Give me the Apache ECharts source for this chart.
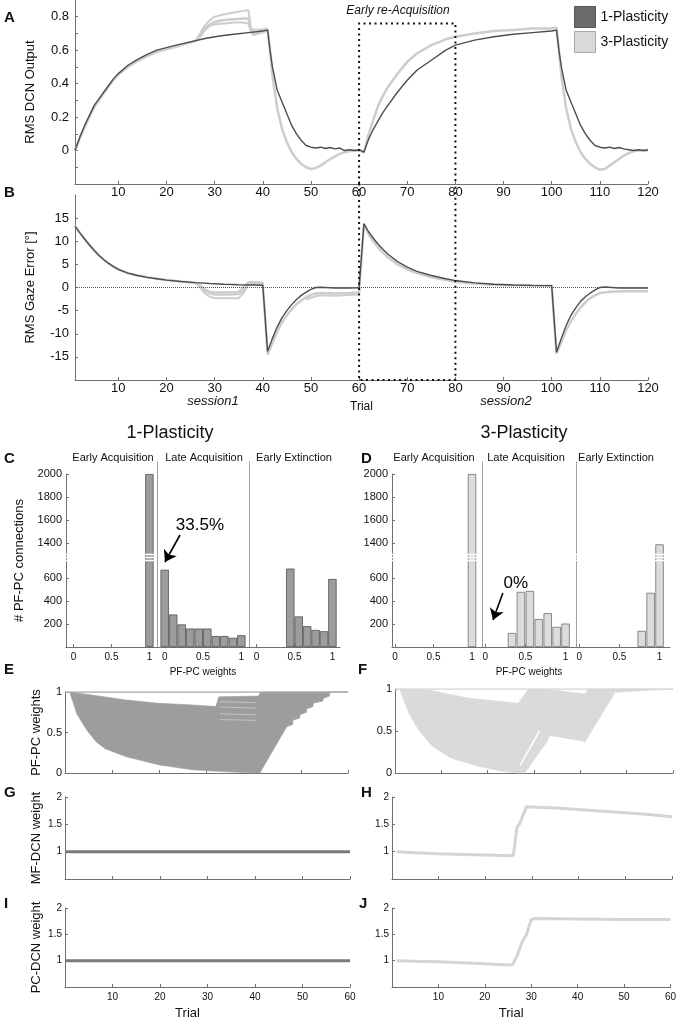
<!DOCTYPE html>
<html>
<head>
<meta charset="utf-8">
<script src="https://cdn.jsdelivr.net/npm/echarts@6/dist/echarts.min.js"></script>
<style>html,body{margin:0;padding:0;background:#fff}#chart1{width:679px;height:1021px}</style>
</head>
<body>
<div id="chart1"></div>
<script>
// ---- data ----
var trialTicks = [10, 20, 30, 40, 50, 60, 70, 80, 90, 100, 110, 120];
var dcnLabelTicks = [0, 0.2, 0.4, 0.6, 0.8];
var dcnMinorTicks = [-0.1, 0, 0.1, 0.2, 0.3, 0.4, 0.5, 0.6, 0.7, 0.8];
var gazeTicks = [-15, -10, -5, 0, 5, 10, 15];
var reacqWindow = [60, 80];
var reacqTop = 0.76;

// A: RMS DCN output
var dcnOne = [[1,0],[2,0.08],[3,0.15],[4,0.21],[5,0.27],[6,0.31],[7,0.35],[8,0.39],[9,0.43],[10,0.46],[12,0.51],[14,0.545],[16,0.575],[18,0.6],[20,0.615],[22,0.63],[25,0.65],[28,0.67],[31,0.685],[34,0.695],[37,0.705],[40,0.715],[41,0.72],[41.5,0.6],[42,0.5],[43,0.36],[44,0.29],[45,0.22],[46,0.15],[47,0.1],[48,0.06],[49,0.03],[50,0.02],[51,0.015],[52,0.02],[53,0.012],[54,0.018],[55,0.01],[56,0.015],[57,0],[58,0.005],[59,0],[60,0.005],[61,-0.01],[62,0.07],[63,0.13],[64,0.18],[65,0.23],[66,0.27],[68,0.35],[70,0.42],[72,0.48],[75,0.54],[78,0.6],[80,0.63],[84,0.66],[88,0.68],[92,0.695],[96,0.705],[100,0.715],[101,0.72],[101.5,0.6],[102,0.5],[103,0.36],[104,0.29],[105,0.22],[106,0.15],[107,0.1],[108,0.06],[109,0.03],[110,0.02],[111,0.015],[112,0.02],[113,0.012],[114,0.018],[115,0.01],[116,0.005],[117,0],[118,0.005],[119,0],[120,0.005]];
var dcnThree = [[1,0],[2,0.075],[3,0.14],[4,0.2],[5,0.26],[6,0.3],[7,0.345],[8,0.385],[9,0.42],[10,0.455],[12,0.5],[14,0.535],[16,0.565],[18,0.59],[20,0.605],[22,0.62],[24,0.64],[26,0.655],[27,0.69],[28,0.73],[29,0.755],[30,0.77],[32,0.78],[34,0.785],[36,0.79],[37,0.79],[37.5,0.72],[38,0.7],[40,0.715],[41,0.725],[41.5,0.6],[42,0.45],[43,0.25],[44,0.13],[45,0.05],[46,-0.01],[47,-0.05],[48,-0.08],[49,-0.1],[50,-0.11],[51,-0.105],[52,-0.09],[53,-0.07],[54,-0.05],[55,-0.035],[56,-0.02],[57,-0.01],[58,-0.005],[59,0],[60,0],[61,-0.01],[62,0.1],[63,0.19],[64,0.27],[65,0.33],[66,0.38],[68,0.46],[70,0.53],[72,0.58],[75,0.63],[78,0.665],[80,0.68],[84,0.7],[88,0.715],[92,0.72],[96,0.73],[100,0.73],[101,0.735],[101.5,0.6],[102,0.45],[103,0.25],[104,0.13],[105,0.05],[106,-0.01],[107,-0.05],[108,-0.08],[109,-0.1],[110,-0.115],[111,-0.11],[112,-0.09],[113,-0.07],[114,-0.05],[115,-0.03],[116,-0.015],[117,-0.005],[118,0],[120,0]];
var dcnThreeHi = [[26,0.655],[27,0.7],[28,0.75],[29,0.78],[30,0.8],[32,0.815],[34,0.825],[36,0.835],[37,0.84],[37.5,0.74],[38,0.72],[40,0.725],[41,0.73]];
var dcnThreeLo = [[26,0.655],[27,0.68],[28,0.72],[29,0.745],[30,0.755],[32,0.76],[34,0.765],[36,0.765],[37,0.76],[37.5,0.71],[38,0.69],[40,0.705],[41,0.72]];

// B: RMS gaze error
var gazeOne = [[1,13.2],[2,11.8],[3,10.5],[4,9.2],[5,8],[6,6.9],[7,6],[8,5.2],[9,4.5],[10,3.9],[12,3.1],[14,2.6],[16,2.2],[18,1.9],[20,1.6],[23,1.3],[26,1.05],[29,0.85],[32,0.7],[35,0.6],[38,0.55],[40,0.5],[41,-13.8],[42,-11],[43,-8.5],[44,-6.5],[45,-5],[46,-3.7],[47,-2.6],[48,-1.7],[49,-1],[50,-0.4],[51,0],[52,0.05],[55,-0.1],[58,-0.1],[60,-0.05],[61,13.8],[62,12],[63,10.6],[64,9.3],[65,8.2],[66,7.2],[68,5.6],[70,4.4],[72,3.5],[75,2.6],[78,1.9],[80,1.5],[84,1],[88,0.7],[92,0.55],[96,0.45],[100,0.4],[101,-14],[102,-11],[103,-8.2],[104,-6],[105,-4.4],[106,-3],[107,-2],[108,-1.2],[109,-0.5],[110,0],[111,0.1],[114,-0.1],[117,-0.1],[120,-0.1]];
var gazeThree = [[1,13.4],[2,11.9],[3,10.5],[4,9.2],[5,8],[6,6.9],[7,6],[8,5.2],[9,4.5],[10,3.9],[12,3.1],[14,2.6],[16,2.2],[18,1.9],[20,1.6],[23,1.3],[26,1],[27,0.3],[28,-0.7],[29,-1.3],[30,-1.5],[33,-1.5],[35,-1.4],[36,-0.6],[37,0.9],[38,1],[40,0.9],[41,-14.5],[42,-12],[43,-9.5],[44,-7.5],[45,-6],[46,-4.7],[47,-3.6],[48,-2.8],[49,-2.1],[50,-1.6],[51,-1.3],[52,-1.2],[55,-1.3],[58,-1.2],[60,-1.1],[61,13.5],[62,11.5],[63,9.9],[64,8.6],[65,7.5],[66,6.5],[68,5],[70,3.9],[72,3.1],[75,2.2],[78,1.6],[80,1.25],[84,0.85],[88,0.6],[92,0.5],[96,0.42],[100,0.4],[101,-14.3],[102,-11.8],[103,-9.3],[104,-7.3],[105,-5.7],[106,-4.3],[107,-3.2],[108,-2.3],[109,-1.7],[110,-1.2],[112,-0.9],[115,-0.8],[120,-0.8]];
var gazeThreeHi = [[26,1],[27,0.5],[28,-0.4],[29,-0.9],[30,-1],[33,-1],[35,-0.9],[36,0.1],[37,1.2],[38,1.2],[40,1.1]];
var gazeThreeLo = [[26,1],[27,0],[28,-1.3],[29,-2],[30,-2.3],[33,-2.3],[35,-2.3],[36,-1.2],[37,0.6],[38,0.8],[40,0.8]];
var gazeThreeLo2 = [[49,-2.6],[50,-2.2],[51,-1.9],[52,-1.7],[55,-1.8],[58,-1.6],[60,-1.5]];

// C / D: histograms of PF-PC weights (10 bins)
var binCenters = [0, 0.111, 0.222, 0.333, 0.444, 0.556, 0.667, 0.778, 0.889, 1];
var histOneEarlyAcq = [0, 0, 0, 0, 0, 0, 0, 0, 0, 2000];
var histOneLateAcq = [670, 282, 196, 160, 160, 160, 95, 95, 80, 102];
var histOneEarlyExt = [0, 0, 0, 0, 680, 265, 180, 148, 137, 590];
var histThreeEarlyAcq = [0, 0, 0, 0, 0, 0, 0, 0, 0, 2000];
var histThreeLateAcq = [0, 0, 0, 122, 478, 486, 243, 293, 175, 203];
var histThreeEarlyExt = [0, 0, 0, 0, 0, 0, 0, 140, 470, 1390];
var histTicks = [200, 400, 600, 1400, 1600, 1800, 2000];
var weightTicks = [0, 0.5, 1];
var phaseNames = ['Early Acquisition', 'Late Acquisition', 'Early Extinction'];

// E / F: envelope of PF-PC weights over trials
var weightCeiling = [[0,1],[60,1]];
var pfpcOneUpper = [[1,1],[6,0.96],[13,0.9],[20,0.86],[27,0.84],[32,0.82],[32.6,0.94],[41,0.95],[41.5,1],[60,1]];
var pfpcOneLower = [[1,1],[2.5,0.73],[4.6,0.53],[6.7,0.38],[8.5,0.3],[13,0.2],[20,0.1],[27,0.04],[34,0.016],[40.5,0],[41.3,0],[47,0.57],[48.3,0.6],[48.3,0.65],[49.8,0.68],[49.8,0.72],[51.2,0.75],[51.2,0.79],[52.6,0.82],[52.6,0.86],[54.7,0.89],[54.7,0.92],[56.1,0.95],[56.1,0.98],[56.5,1],[60,1]];
var pfpcOneStripes = [[[32.8,0.88],[40.5,0.87]], [[32.8,0.815],[40.5,0.8]], [[32.8,0.73],[40.5,0.72]], [[32.8,0.66],[40.5,0.65]]];
var pfpcThreeUpper = [[1,1],[7,0.99],[16,0.89],[26.6,0.83],[28.8,1],[32.4,1],[41,0.94],[41.7,1],[60,1]];
var pfpcThreeLower = [[1,1],[3,0.71],[5,0.52],[8,0.32],[12,0.18],[18,0.08],[23,0.02],[26.5,0],[28,0],[33,0.39],[33.2,0.44],[41,0.37],[47.5,0.96],[60,1]];
var pfpcThreeGaps = [[[27,0.09],[31.2,0.5]], [[33.5,0.43],[40.6,0.365]]];

// G-J: MF-DCN and PC-DCN weights
var trial60Ticks = [10, 20, 30, 40, 50, 60];
var dcnWeightTicks = [1, 1.5, 2];
var mfdcnOne = [[0,1],[60,1]];
var mfdcnThree = [[1,1],[5,0.98],[10,0.96],[15,0.95],[20,0.94],[25,0.925],[26,0.935],[26.8,1.45],[27.3,1.5],[28.8,1.82],[35,1.8],[40,1.77],[45,1.74],[50,1.71],[55,1.68],[60,1.64]];
var pcdcnOne = [[0,1],[60,1]];
var pcdcnThree = [[1,1],[5,0.99],[10,0.98],[15,0.96],[20,0.94],[25,0.92],[26,0.925],[27,1.1],[28,1.35],[29,1.5],[30,1.78],[31,1.8],[40,1.79],[50,1.78],[60,1.78]];

// ---- styling ----
var FONT = 'Liberation Sans, Arial, sans-serif';
var AXIS = '#707070';
var DARK = '#4d4d4d';
var LIGHT = '#cdcdcd';
var BREAK_AT = 750, BREAK_GAP = 500;
var breakMarks = [755, 780, 805];

function toDisplay(v) { return v > BREAK_AT ? v - BREAK_GAP : v; }
function fromDisplay(d) { return d > BREAK_AT ? d + BREAK_GAP : d; }

function merge(a, b) {
  for (var k in b) {
    if (b[k] && typeof b[k] === 'object' && !Array.isArray(b[k]) && a[k] && typeof a[k] === 'object') merge(a[k], b[k]);
    else a[k] = b[k];
  }
  return a;
}
function axis(grid, min, max, opts) {
  return merge({
    type: 'value', gridIndex: grid, min: min, max: max,
    splitLine: {show: false},
    axisLine: {show: true, onZero: false, lineStyle: {color: AXIS, width: 1}},
    axisTick: {show: true, inside: true, length: 3, lineStyle: {color: AXIS}},
    axisLabel: {show: true, color: '#111', fontSize: 13, fontFamily: FONT, margin: 6},
    nameTextStyle: {color: '#111', fontSize: 13, fontFamily: FONT}
  }, opts || {});
}
function line(name, data, grid, color, width) {
  return {name: name, type: 'line', data: data, xAxisIndex: grid, yAxisIndex: grid,
    symbol: 'none', silent: true, lineStyle: {color: color, width: width}, itemStyle: {color: color}};
}
function joinSegments(segs) {
  var out = [];
  segs.forEach(function (s, i) { if (i) out.push('-'); out = out.concat(s); });
  return out;
}
function band(grid, upper, lower, color) {
  return {type: 'custom', xAxisIndex: grid, yAxisIndex: grid, silent: true, data: [[0, 0]],
    renderItem: function (params, api) {
      var pts = upper.concat(lower.slice().reverse()).map(function (p) { return api.coord(p); });
      return {type: 'polygon', shape: {points: pts}, style: {fill: color, stroke: color, lineWidth: 0.6}};
    }};
}
// dotted outline of the re-acquisition window, drawn through the grid's own scales
function dottedPath(grid, path) {
  return {type: 'custom', xAxisIndex: grid, yAxisIndex: grid, silent: true, clip: false, z: 5, data: [[0, 0]],
    renderItem: function (params, api) {
      return {type: 'polyline', shape: {points: path.map(function (p) { return api.coord(p); })},
        style: {stroke: '#111', lineWidth: 2, lineDash: [2, 3.5], fill: null}};
    }};
}
function pctLabel(counts) {
  var s = counts.reduce(function (a, b) { return a + b; }, 0);
  return +(counts[0] / s * 100).toFixed(1) + '%';
}

// ---- grids ----
// histogram panels: first subplot starts at the 2000 tick, the dotted dividers reach a bit higher
var HIST_TOP = 474, HIST_H = 173, DIVIDER_TOP = 462;
var HIST_MAX = toDisplay(2000);
var DIVIDER_MAX = HIST_MAX * (HIST_TOP + HIST_H - DIVIDER_TOP) / HIST_H;
var grids = [
  {left: 75, top: 0, width: 573, height: 184},    // 0 A
  {left: 75, top: 195, width: 573, height: 185},  // 1 B
  {left: 66, top: HIST_TOP, width: 91, height: HIST_H},   // 2 C early acq
  {left: 157, top: DIVIDER_TOP, width: 92, height: HIST_TOP + HIST_H - DIVIDER_TOP},  // 3 C late acq
  {left: 249, top: DIVIDER_TOP, width: 91, height: HIST_TOP + HIST_H - DIVIDER_TOP},  // 4 C early ext
  {left: 392, top: HIST_TOP, width: 90, height: HIST_H},  // 5 D early acq
  {left: 482, top: DIVIDER_TOP, width: 94, height: HIST_TOP + HIST_H - DIVIDER_TOP},  // 6 D late acq
  {left: 576, top: DIVIDER_TOP, width: 94, height: HIST_TOP + HIST_H - DIVIDER_TOP},  // 7 D early ext
  {left: 65, top: 692, width: 283, height: 81},   // 8 E
  {left: 395, top: 689, width: 278, height: 84},  // 9 F
  {left: 65, top: 797, width: 285, height: 82},   // 10 G
  {left: 392, top: 797, width: 280, height: 82},  // 11 H
  {left: 65, top: 908, width: 285, height: 84},   // 12 I
  {left: 392, top: 908, width: 280, height: 84}   // 13 J
];

var trialAxisX = {axisLabel: {customValues: trialTicks, margin: 2}, axisTick: {customValues: trialTicks}};
var xAxes = [
  axis(0, 1, 120, trialAxisX),
  axis(1, 1, 120, merge({name: 'Trial', nameLocation: 'middle', nameGap: 21, nameTextStyle: {fontSize: 12}}, trialAxisX))
];
var yAxes = [
  axis(0, -0.2, 0.9, {name: 'RMS DCN Output', nameLocation: 'middle', nameGap: 38,
    axisLabel: {customValues: dcnLabelTicks, formatter: function (v) { return v === 0 ? '0' : v.toFixed(1); }},
    axisTick: {customValues: dcnMinorTicks}}),
  axis(1, -20, 20, {name: 'RMS Gaze Error [°]', nameLocation: 'middle', nameGap: 38,
    axisLabel: {customValues: gazeTicks}, axisTick: {customValues: gazeTicks}})
];

// histogram axes
var histSets = [histOneEarlyAcq, histOneLateAcq, histOneEarlyExt, histThreeEarlyAcq, histThreeLateAcq, histThreeEarlyExt];
var histRanges = [[-0.1, 1.1], [-0.1, 1.1], [-0.1, 1.1], [-0.04, 1.13], [-0.04, 1.13], [-0.04, 1.13]];
histSets.forEach(function (counts, i) {
  var g = i + 2, first = i % 3 === 0, mid = i % 3 === 1;
  xAxes.push(axis(g, histRanges[i][0], histRanges[i][1], {
    name: mid ? 'PF-PC weights' : '', nameLocation: 'middle', nameGap: 20, nameTextStyle: {fontSize: 10},
    axisLabel: {customValues: weightTicks, fontSize: 10, margin: 5},
    axisTick: {customValues: weightTicks}}));
  yAxes.push(first ? axis(g, 0, HIST_MAX, {
    name: i === 0 ? '# PF-PC connections' : '', nameLocation: 'middle', nameGap: 40,
    axisLabel: {customValues: histTicks.map(toDisplay), fontSize: 11, margin: 4,
      formatter: function (v) { return String(fromDisplay(v)); }},
    axisTick: {customValues: histTicks.map(toDisplay)}
  }) : axis(g, 0, DIVIDER_MAX, {
    axisLine: {lineStyle: {type: 'dotted', color: '#8a8a8a'}},
    axisLabel: {show: false}, axisTick: {show: false}}));
});

// E-J axes
[8, 9, 10, 11, 12, 13].forEach(function (g) {
  var bottomRow = g >= 12;
  xAxes.push(axis(g, 0, 60, {
    name: bottomRow ? 'Trial' : '', nameLocation: 'middle', nameGap: 20, nameTextStyle: {fontSize: 13, padding: [0, 40, 0, 0]},
    axisLabel: {show: bottomRow, customValues: trial60Ticks, fontSize: 10, margin: 5},
    axisTick: {customValues: trial60Ticks}}));
});
yAxes.push(axis(8, 0, 1, {name: 'PF-PC weights', nameLocation: 'middle', nameGap: 22, interval: 0.5, axisLabel: {fontSize: 11, margin: 3}}));
yAxes.push(axis(9, 0, 1, {interval: 0.5, axisLabel: {fontSize: 11, margin: 3}}));
yAxes.push(axis(10, 0.5, 2, {name: 'MF-DCN weight', nameLocation: 'middle', nameGap: 22,
  axisLabel: {customValues: dcnWeightTicks, fontSize: 10, margin: 3}, axisTick: {customValues: dcnWeightTicks}}));
yAxes.push(axis(11, 0.5, 2, {axisLabel: {customValues: dcnWeightTicks, fontSize: 10, margin: 3}, axisTick: {customValues: dcnWeightTicks}}));
yAxes.push(axis(12, 0.5, 2, {name: 'PC-DCN weight', nameLocation: 'middle', nameGap: 22,
  axisLabel: {customValues: dcnWeightTicks, fontSize: 10, margin: 3}, axisTick: {customValues: dcnWeightTicks}}));
yAxes.push(axis(13, 0.5, 2, {axisLabel: {customValues: dcnWeightTicks, fontSize: 10, margin: 3}, axisTick: {customValues: dcnWeightTicks}}));

// ---- series ----
var series = [];

// A
series.push(line('a-hi', dcnThreeHi, 0, LIGHT, 2));
series.push(line('a-lo', dcnThreeLo, 0, LIGHT, 2));
series.push(line('3-Plasticity', dcnThree, 0, LIGHT, 2.5));
series.push(line('1-Plasticity', dcnOne, 0, DARK, 1.4));
series.push(dottedPath(0, [[reacqWindow[0], -0.2], [reacqWindow[0], reacqTop], [reacqWindow[1], reacqTop], [reacqWindow[1], -0.2]]));

// B
var bZero = line('b-hi', gazeThreeHi, 1, LIGHT, 2);
bZero.markLine = {silent: true, symbol: ['none', 'none'], label: {show: false},
  lineStyle: {color: '#555', width: 1, type: 'dotted'}, data: [{yAxis: 0}]};
series.push(bZero);
series.push(line('b-lo', gazeThreeLo, 1, LIGHT, 2));
series.push(line('b-lo2', gazeThreeLo2, 1, LIGHT, 2));
series.push(line('b-three', gazeThree, 1, LIGHT, 2.5));
series.push(line('b-one', gazeOne, 1, DARK, 1.4));
// continue the window up through the gap between A and B
series.push(dottedPath(1, [[reacqWindow[0], 22.5], [reacqWindow[0], -20], [reacqWindow[1], -20], [reacqWindow[1], 22.5]]));

// C / D histograms
var arrowSpec = {
  1: {tail: [0.2, 971], head: [0.004, 737], text: [0.46, 1058]},
  4: {tail: [0.22, 468], head: [0.097, 234], text: [0.38, 555]}
};
histSets.forEach(function (counts, i) {
  var g = i + 2, isOne = i < 3;
  var data = [];
  counts.forEach(function (c, k) { if (c > 0) data.push([binCenters[k], toDisplay(c)]); });
  var s = {type: 'bar', xAxisIndex: g, yAxisIndex: g, data: data, barWidth: 8.4, silent: true,
    itemStyle: {color: isOne ? '#9c9c9c' : '#dcdcdc', borderColor: isOne ? '#505050' : '#707070', borderWidth: 0.8}};
  var tall = Math.max.apply(null, counts) > BREAK_AT;
  if (tall) {
    s.markLine = {silent: true, symbol: ['none', 'none'], label: {show: false},
      lineStyle: {color: '#fff', width: 1.3, type: 'solid'},
      data: breakMarks.map(function (d) { return {yAxis: d}; })};
  }
  if (arrowSpec[i]) {
    var a = arrowSpec[i];
    s.markLine = {silent: true, symbol: ['none', 'arrow'], symbolSize: 11, label: {show: false},
      lineStyle: {color: '#000', width: 1.6, type: 'solid'},
      data: [[{coord: a.tail}, {coord: a.head}]]};
    s.markPoint = {silent: true, symbol: 'circle', symbolSize: 0,
      label: {show: true, position: 'inside', color: '#000', fontSize: 17, fontFamily: FONT, formatter: pctLabel(counts)},
      data: [{coord: a.text}]};
  }
  series.push(s);
});

// E / F
series.push(band(8, pfpcOneUpper, pfpcOneLower, '#9d9d9d'));
series.push(line('e-stripes', joinSegments(pfpcOneStripes), 8, '#c2c2c2', 1));
series.push(line('e-top', weightCeiling, 8, '#a8a8a8', 1.5));
series.push(band(9, pfpcThreeUpper, pfpcThreeLower, '#dadada'));
series.push(line('f-gaps', joinSegments(pfpcThreeGaps), 9, '#ffffff', 1.6));
series.push(line('f-top', weightCeiling, 9, '#d6d6d6', 1.5));

// G-J
series.push(line('g', mfdcnOne, 10, '#7a7a7a', 3));
series.push(line('h', mfdcnThree, 11, '#d4d4d4', 3));
series.push(line('i', pcdcnOne, 12, '#7a7a7a', 3));
series.push(line('j', pcdcnThree, 13, '#d4d4d4', 3));

// ---- text ----
function t(text, left, top, size, extra) {
  return merge({text: text, left: left, top: top, padding: 0, textAlign: 'center',
    textStyle: {fontSize: size, fontWeight: 'normal', color: '#111', fontFamily: FONT}}, extra || {});
}
var bold = {textAlign: 'left', textStyle: {fontWeight: 'bold'}};
var titles = [
  t('A', 4, 10, 15, bold), t('B', 4, 185, 15, bold), t('C', 4, 451, 15, bold), t('D', 361, 451, 15, bold),
  t('E', 4, 662, 15, bold), t('F', 358, 662, 15, bold), t('G', 4, 785, 15, bold), t('H', 361, 785, 15, bold),
  t('I', 4, 896, 15, bold), t('J', 359, 896, 15, bold),
  t('Early re-Acquisition', 398, 5, 12, {textStyle: {fontStyle: 'italic'}}),
  t('session1', 213, 395, 13, {textStyle: {fontStyle: 'italic'}}),
  t('session2', 506, 395, 13, {textStyle: {fontStyle: 'italic'}}),
  t('1-Plasticity', 170, 424, 18), t('3-Plasticity', 524, 424, 18),
  t(phaseNames[0], 113, 452, 11), t(phaseNames[1], 204, 452, 11), t(phaseNames[2], 294, 452, 11),
  t(phaseNames[0], 434, 452, 11), t(phaseNames[1], 526, 452, 11), t(phaseNames[2], 616, 452, 11)
];

var myChart = echarts.init(document.getElementById('chart1'));
myChart.setOption({
  animation: false,
  backgroundColor: '#fff',
  textStyle: {fontFamily: FONT},
  title: titles,
  legend: {
    orient: 'vertical', left: 574, top: 6, padding: 0, itemWidth: 21, itemHeight: 21, itemGap: 3, icon: 'rect',
    selectedMode: false, textStyle: {fontSize: 14, color: '#111', fontFamily: FONT},
    data: [
      {name: '1-Plasticity', itemStyle: {color: '#6b6b6b', borderColor: '#555', borderWidth: 1}},
      {name: '3-Plasticity', itemStyle: {color: '#d9d9d9', borderColor: '#aaa', borderWidth: 1}}
    ]
  },
  grid: grids,
  xAxis: xAxes,
  yAxis: yAxes,
  series: series
});
</script>
</body>
</html>
